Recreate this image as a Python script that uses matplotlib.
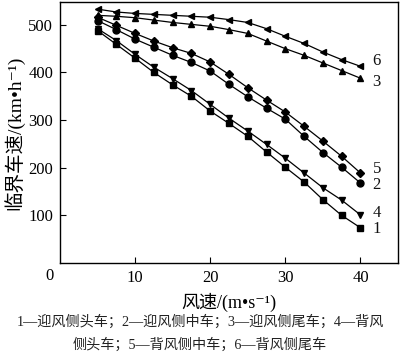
import numpy as np
import matplotlib
matplotlib.use("Agg")
import matplotlib.pyplot as plt

plt.rcParams['font.family'] = ['Liberation Serif', 'Noto Sans CJK SC', 'DejaVu Sans']

# 风速 (m/s)
wind = [5, 7.5, 10, 12.5, 15, 17.5, 20, 22.5, 25, 27.5, 30, 32.5, 35, 37.5, 40]

# 临界车速 (km/h), 曲线 1-6
v1 = [488, 459, 430, 400, 374, 350, 319, 293, 266, 233, 201, 170, 133, 100, 74]
v2 = [509, 490, 470, 453, 436, 421, 403, 375, 349, 325, 302, 266, 232, 201, 168]
v3 = [520, 518, 515, 510, 505, 501, 497, 490, 482, 466, 450, 436, 420, 404, 388]
v4 = [492, 467, 438, 411, 387, 362, 333, 304, 277, 249, 220, 189, 158, 132, 101]
v5 = [516, 499, 482, 466, 452, 440, 422, 396, 368, 342, 317, 287, 256, 224, 189]
v6 = [533, 527, 524, 522, 520, 518, 516, 511, 505, 492, 476, 461, 443, 427, 413]

series = [("1", v1, "s"), ("2", v2, "o"), ("3", v3, "^"),
          ("4", v4, "v"), ("5", v5, "D"), ("6", v6, "<")]
label_dy = {"1": -2, "2": -4, "3": -8, "4": 4, "5": 8, "6": 12}

fig = plt.figure(figsize=(4.0, 3.57), dpi=100)
ax = fig.add_axes([60 / 400, 1 - 263 / 357, 338 / 400, 261 / 357])

for name, vals, mk in series:
    ms = 4.3 if mk == "D" else 5
    ax.plot(wind, vals, color="black", linewidth=0.9, marker=mk,
            markersize=ms, markerfacecolor="black", markeredgecolor="black")
    ax.text(wind[-1] + 1.6, vals[-1] + label_dy[name], name, fontsize=12,
            va="center", ha="left", color="#111111")

ax.set_xlim(0, 45)
ax.set_ylim(0, 548)
ax.set_xticks([10, 20, 30, 40])
ax.set_yticks([100, 200, 300, 400, 500])
ax.tick_params(direction="in", length=4, width=0.8, labelsize=12,
               colors="black", pad=5)
for sp in ax.spines.values():
    sp.set_linewidth(1.0)

ax.text(-0.9, -10, "0", fontsize=12, ha="right", va="top")

ax.set_ylabel("临界车速/(km•h⁻¹)", fontsize=14, fontweight="medium", labelpad=3)
ax.set_xlabel("风速/(m•s⁻¹)", fontsize=13, fontweight="medium", labelpad=5)

fig.text(0.5, 1 - 322 / 357, "1—迎风侧头车；2—迎风侧中车；3—迎风侧尾车；4—背风",
         ha="center", va="center", fontsize=10.2, color="#222222")
fig.text(0.5, 1 - 345 / 357, "侧头车；5—背风侧中车；6—背风侧尾车",
         ha="center", va="center", fontsize=10.2, color="#222222")

fig.savefig("out.png", dpi=100)
